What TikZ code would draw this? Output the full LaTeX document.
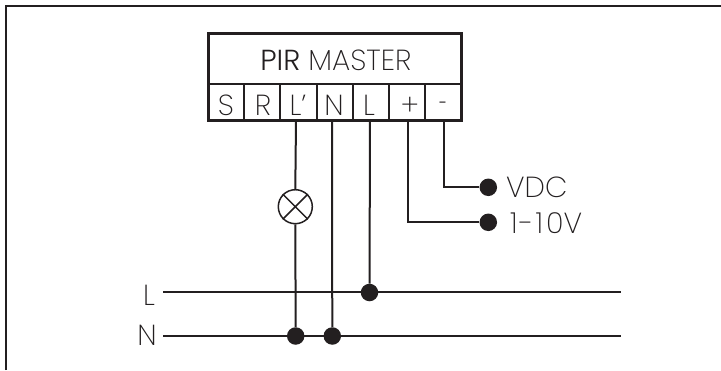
\documentclass[tikz,border=0pt]{standalone}
\usepackage{graphicx}
\usepackage{fontspec}
\setmainfont{Poppins ExtraLight}
\newfontfamily\boldish{Poppins Light}
\begin{document}
\begin{tikzpicture}[x=1pt,y=-1pt,
  wire/.style={line width=2pt,draw=ink},
  boxline/.style={line width=2pt,draw=ink},
  lbl/.style={inner sep=0pt,anchor=base,text=ink,font=\fontsize{29}{29}\selectfont},
  dot/.style={circle,fill=ink,inner sep=0pt,minimum size=17.5pt}]
\definecolor{ink}{HTML}{231F20}
\useasboundingbox (0,0) rectangle (721,370);
\draw[line width=2pt,draw=ink] (6,370) -- (6,6) -- (721,6);
\node[lbl] (title) at (335.8,70) {{\boldish PIR} MASTER};
\draw[line width=3pt,draw=ink] (208,33) rectangle (461.7,120.7);
\draw[boxline] (208,84) -- (461.7,84);
\foreach \x in {244.3,280.3,316.7,352.7,389.3,425.3} \draw[boxline] (\x,84) -- (\x,120.7);
\node[lbl] (s) at (226,115) {S};
\node[lbl] (r) at (263,115) {R};
\node[lbl] (lp) at (298,115) {L'};
\node[lbl] (n) at (334,115) {N};
\node[lbl] (l) at (369,115) {L};
\node[lbl] (plus) at (410,115) {+};
\node[lbl] (minus) at (443.5,113) {\scalebox{.55}[1]{-}};
\coordinate (c1) at (296,120.7);
\coordinate (c2) at (332,120.7);
\coordinate (c3) at (370,120.7);
\coordinate (c4) at (408,120.7);
\coordinate (c5) at (444,120.7);
\node[circle,draw=ink,line width=1.5pt,minimum size=34pt,inner sep=0pt] (lamp) at (295.3,206.7) {};
\draw[line width=1.5pt,draw=ink] (lamp.north east) -- (lamp.south west) (lamp.north west) -- (lamp.south east);
\node[dot] (d1) at (295.7,336) {};
\node[dot] (d2) at (332.3,336) {};
\node[dot] (d3) at (369.5,292.5) {};
\node[dot] (d4) at (488.3,187.3) {};
\node[dot] (d5) at (488.3,222.3) {};
\node[lbl,anchor=base west] (vdc) at (506,197.7) {VDC};
\node[lbl,anchor=base west] (v) at (510,233) {1\kern2pt-\kern2pt1\kern3pt0V};
\node[lbl] (ll) at (149,305) {L};
\node[lbl] (nn) at (147,345) {N};
\coordinate (le) at (163.3,291.5);
\coordinate (re) at (620.7,291.5);
\coordinate (ne) at (163.3,336);
\coordinate (rn) at (620.7,336);
\draw[wire] (le) -- (re);
\draw[wire] (ne) -- (rn);
\draw[wire] (c1) -- (lamp.north);
\draw[wire] (lamp.south) -- (d1);
\draw[wire] (c2) -- (d2);
\draw[wire] (c3) -- (d3);
\draw[wire] (c4) |- (d5);
\draw[wire] (c5) |- (d4);
\end{tikzpicture}
\end{document}
